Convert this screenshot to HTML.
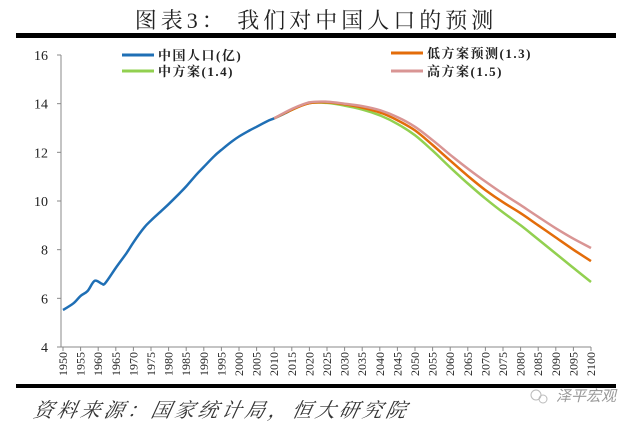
<!DOCTYPE html>
<html><head><meta charset="utf-8"><style>
body{margin:0;background:#fff;width:636px;height:426px;overflow:hidden}
svg{display:block}
</style></head><body>
<svg id="chart" width="636" height="426" xmlns="http://www.w3.org/2000/svg">
<text x="316" y="28" text-anchor="middle" font-family="'Liberation Serif','Noto Serif CJK SC',serif" font-size="22" letter-spacing="4" fill="#222">图表3：  我们对中国人口的预测</text>
<rect x="16" y="33" width="600" height="5" fill="#000"/>
<rect x="16" y="384" width="600" height="4" fill="#000"/>
<text x="33" y="417" font-family="'Liberation Serif','Noto Serif CJK SC',serif" font-size="20" font-style="italic" letter-spacing="3.5" fill="#333" transform="skewX(-12) translate(88,0)">资料来源：国家统计局，恒大研究院</text>
<g>
<circle cx="536" cy="395" r="5" fill="none" stroke="#bbb"/>
<circle cx="543" cy="399" r="4" fill="none" stroke="#bbb"/>
<text x="556" y="401" font-family="'Noto Sans CJK SC',sans-serif" font-size="15" fill="#999" font-style="italic">泽平宏观</text>
</g>
<g id="axes"></g>
<g id="series"></g>
<g id="legend"></g>
</svg>
<script>
const histYears=[1950,1953,1955,1957,1959,1961,1962,1965,1968,1970,1973,1975,1978,1980,1983,1985,1988,1990,1993,1995,1998,2000,2003,2005,2008,2010,2013,2015,2018,2020];
const histValues=[5.52,5.8,6.1,6.3,6.72,6.6,6.62,7.25,7.85,8.3,8.9,9.2,9.6,9.87,10.3,10.6,11.1,11.4,11.85,12.1,12.45,12.65,12.9,13.05,13.28,13.4,13.6,13.75,13.95,14.05];
const projYears=[2010,2015,2020,2025,2030,2035,2040,2045,2050,2055,2060,2065,2070,2075,2080,2085,2090,2095,2100];
const lowValues=[13.4,13.75,14.02,14.05,13.97,13.84,13.64,13.32,12.9,12.3,11.66,11.03,10.45,9.95,9.5,9.0,8.5,8.0,7.53];
const midValues=[13.4,13.75,14.02,14.03,13.92,13.76,13.52,13.17,12.7,12.07,11.38,10.72,10.1,9.53,9.0,8.42,7.84,7.25,6.67];
const highValues=[13.4,13.78,14.05,14.08,14.0,13.9,13.73,13.45,13.05,12.5,11.9,11.33,10.8,10.3,9.83,9.35,8.88,8.45,8.07];
const yTicks=[4,6,8,10,12,14,16];
const xTickYears=[];for(let y=1950;y<=2100;y+=5)xTickYears.push(y);

const NS="http://www.w3.org/2000/svg";
const X0=63,X1=591,Y0=347,Y1=55;
const xs=v=>X0+(v-1950)/(2100-1950)*(X1-X0);
const ys=v=>Y0-(v-4)/(16-4)*(Y0-Y1);
function mk(tag,attrs,parent){const e=document.createElementNS(NS,tag);for(const k in attrs)e.setAttribute(k,attrs[k]);parent.appendChild(e);return e;}
const axes=document.getElementById('axes'),series=document.getElementById('series'),legend=document.getElementById('legend');
const font="'Liberation Serif','Noto Serif CJK SC',serif";
let a=mk('line',{x1:61,y1:Y1,x2:61,y2:Y0,stroke:'#888'},axes);

a=mk('line',{x1:61,y1:Y0,x2:X1,y2:Y0,stroke:'#888'},axes);

yTicks.forEach(v=>{
 let t=mk('line',{x1:57,y1:ys(v),x2:61,y2:ys(v),stroke:'#888'},axes);
 
 let l=mk('text',{x:48,y:ys(v)+5,'text-anchor':'end','font-family':font,'font-size':14,fill:'#222'},axes);
 l.textContent=v;
 
});
xTickYears.forEach(v=>{
 let t=mk('line',{x1:xs(v),y1:Y0,x2:xs(v),y2:Y0+4,stroke:'#888'},axes);
 
 let l=mk('text',{x:0,y:0,'text-anchor':'end','font-family':font,'font-size':12,fill:'#222',transform:`translate(${xs(v)+4},${Y0+5}) rotate(-90)`},axes);
 l.textContent=v;
 
});
function path(xv,yv,color,w,name){
 const P=xv.map((x,i)=>[xs(x),ys(yv[i])]);
 let d='M'+P[0][0].toFixed(1)+','+P[0][1].toFixed(1);
 for(let i=0;i<P.length-1;i++){
  const p0=P[i-1]||P[i],p1=P[i],p2=P[i+1],p3=P[i+2]||p2;
  const c1=[p1[0]+(p2[0]-p0[0])/6,p1[1]+(p2[1]-p0[1])/6];
  const c2=[p2[0]-(p3[0]-p1[0])/6,p2[1]-(p3[1]-p1[1])/6];
  d+=` C${c1[0].toFixed(1)},${c1[1].toFixed(1)} ${c2[0].toFixed(1)},${c2[1].toFixed(1)} ${p2[0].toFixed(1)},${p2[1].toFixed(1)}`;
 }
 const p=mk('path',{d:d,fill:'none',stroke:color,'stroke-width':w,'stroke-linejoin':'round'},series);
 
}
path(histYears,histValues,'#1f6fb5',2.5,'series-history');
path(projYears,midValues,'#92d050',2.5,'series-mid');
path(projYears,lowValues,'#e36c0a',2.5,'series-low');
path(projYears,highValues,'#d99594',2.5,'series-high');
const legendItems=[['中国人口(亿)','#1f6fb5',122,55],['中方案(1.4)','#92d050',122,71],['低方案预测(1.3)','#e36c0a',391,53],['高方案(1.5)','#d99594',391,71]];
legendItems.forEach(it=>{
 let g=mk('g',{},legend);
 
 mk('line',{x1:it[2],y1:it[3],x2:it[2]+32,y2:it[3],stroke:it[1],'stroke-width':3},g);
 let t=mk('text',{x:it[2]+36,y:it[3]+5,'font-family':font,'font-size':13,'font-weight':'bold',fill:'#222','letter-spacing':1.5},g);
 t.textContent=it[0];
});
</script>
</body></html>
